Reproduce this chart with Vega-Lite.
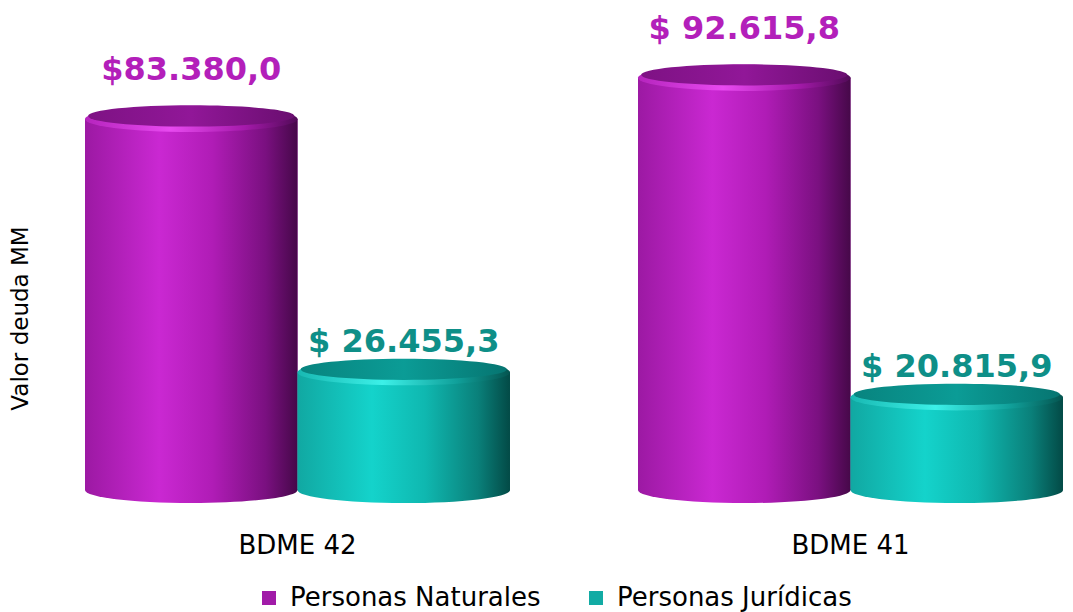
{
  "$schema": "https://vega.github.io/schema/vega-lite/v6.json",
  "width": 998,
  "height": 445,
  "autosize": {"type": "none"},
  "padding": {"left": 75, "top": 45, "right": 0, "bottom": 122},
  "background": "white",
  "config": {"view": {"stroke": null}, "font": "DejaVu Sans"},
  "data": {"values": [
    {"grupo": "BDME 42", "tipo": "Personas Naturales", "valor": 83380.0, "etiqueta": "$83.380,0"},
    {"grupo": "BDME 42", "tipo": "Personas Jurídicas", "valor": 26455.3, "etiqueta": "$ 26.455,3"},
    {"grupo": "BDME 41", "tipo": "Personas Naturales", "valor": 92615.8, "etiqueta": "$ 92.615,8"},
    {"grupo": "BDME 41", "tipo": "Personas Jurídicas", "valor": 20815.9, "etiqueta": "$ 20.815,9"}
  ]},
  "encoding": {
    "x": {"field": "grupo", "type": "nominal", "sort": ["BDME 42", "BDME 41"],
      "scale": {"paddingInner": 0.2315, "paddingOuter": 0.0181},
      "axis": {"title": null, "labelAngle": 0, "ticks": false, "domain": false, "labelFontSize": 26, "labelFont": "DejaVu Sans", "labelColor": "#000000", "labelPadding": 42, "labelBaseline": "top"}},
    "xOffset": {"field": "tipo", "type": "nominal", "sort": ["Personas Naturales", "Personas Jurídicas"], "scale": {"paddingInner": 0, "paddingOuter": 0}},
    "y": {"field": "valor", "type": "quantitative", "scale": {"domain": [0, 100000], "nice": false, "zero": true},
      "axis": {"title": "Valor deuda MM", "labels": false, "ticks": false, "domain": false, "grid": false, "titleFontSize": 23, "titleFont": "DejaVu Sans", "titleFontWeight": "normal", "titleColor": "#000000", "titleX": -55, "titleY": 273, "titleAngle": -90, "titleAlign": "center", "titleBaseline": "middle"}}
  },
  "layer": [
    {
      "mark": {"type": "bar"},
      "encoding": {
        "color": {"field": "tipo", "type": "nominal", "sort": ["Personas Naturales", "Personas Jurídicas"],
          "scale": {"domain": ["Personas Naturales", "Personas Jurídicas"], "range": ["#A11BA8", "#12ABA4"]},
          "legend": {"title": null, "orient": "none", "direction": "horizontal", "legendX": 181, "legendY": 540, "symbolType": "square", "symbolSize": 196, "symbolStrokeWidth": 0, "symbolOpacity": 1, "labelFontSize": 26, "labelFont": "DejaVu Sans", "labelColor": "#000000", "labelLimit": 400, "columnPadding": 42, "labelOffset": 8}}
      }
    },
    {
      "transform": [{"filter": "datum.tipo === 'Personas Naturales'"}],
      "mark": {"type": "bar", "color": {"gradient": "linear", "x1": 0, "x2": 1, "y1": 0, "y2": 0, "stops": [
        {"offset": 0, "color": "#9C19A3"}, {"offset": 0.35, "color": "#CA28D2"}, {"offset": 0.6, "color": "#B01CB6"}, {"offset": 0.85, "color": "#7A1080"}, {"offset": 1, "color": "#460849"}]}},
      "encoding": {}
    },
    {
      "transform": [{"filter": "datum.tipo === 'Personas Jurídicas'"}],
      "mark": {"type": "bar", "color": {"gradient": "linear", "x1": 0, "x2": 1, "y1": 0, "y2": 0, "stops": [
        {"offset": 0, "color": "#11A8A2"}, {"offset": 0.35, "color": "#14D3CB"}, {"offset": 0.6, "color": "#0FB8B0"}, {"offset": 0.85, "color": "#0A807A"}, {"offset": 1, "color": "#034A46"}]}},
      "encoding": {}
    },
    {
      "transform": [{"filter": "datum.tipo === 'Personas Naturales'"}],
      "mark": {"type": "point", "filled": true, "opacity": 1, "strokeWidth": 0, "size": 45200,
        "shape": "M-1,0C-1,-0.0679,-0.5523,-0.123,0,-0.123C0.5523,-0.123,1,-0.0679,1,0C1,0.0679,0.5523,0.123,0,0.123C-0.5523,0.123,-1,0.0679,-1,0Z",
        "fill": {"gradient": "linear", "x1": 0, "x2": 1, "y1": 0, "y2": 0, "stops": [
        {"offset": 0, "color": "#9C19A3"}, {"offset": 0.35, "color": "#CA28D2"}, {"offset": 0.6, "color": "#B01CB6"}, {"offset": 0.85, "color": "#7A1080"}, {"offset": 1, "color": "#460849"}]}},
      "encoding": {"y": {"datum": 0, "type": "quantitative"}}
    },
    {
      "transform": [{"filter": "datum.tipo === 'Personas Jurídicas'"}],
      "mark": {"type": "point", "filled": true, "opacity": 1, "strokeWidth": 0, "size": 45200,
        "shape": "M-1,0C-1,-0.0679,-0.5523,-0.123,0,-0.123C0.5523,-0.123,1,-0.0679,1,0C1,0.0679,0.5523,0.123,0,0.123C-0.5523,0.123,-1,0.0679,-1,0Z",
        "fill": {"gradient": "linear", "x1": 0, "x2": 1, "y1": 0, "y2": 0, "stops": [
        {"offset": 0, "color": "#11A8A2"}, {"offset": 0.35, "color": "#14D3CB"}, {"offset": 0.6, "color": "#0FB8B0"}, {"offset": 0.85, "color": "#0A807A"}, {"offset": 1, "color": "#034A46"}]}},
      "encoding": {"y": {"datum": 0, "type": "quantitative"}}
    },
    {
      "transform": [{"filter": "datum.tipo === 'Personas Naturales'"}],
      "mark": {"type": "point", "filled": true, "opacity": 1, "strokeWidth": 0, "size": 45200,
        "shape": "M-1,0C-1,-0.0679,-0.5523,-0.123,0,-0.123C0.5523,-0.123,1,-0.0679,1,0C1,0.0679,0.5523,0.123,0,0.123C-0.5523,0.123,-1,0.0679,-1,0Z",
        "fill": {"gradient": "linear", "x1": 0, "x2": 1, "y1": 0, "y2": 0, "stops": [
        {"offset": 0, "color": "#B524BD"}, {"offset": 0.4, "color": "#E84AF0"}, {"offset": 0.75, "color": "#A51AAB"}, {"offset": 1, "color": "#520A58"}]}},
      "encoding": {}
    },
    {
      "transform": [{"filter": "datum.tipo === 'Personas Jurídicas'"}],
      "mark": {"type": "point", "filled": true, "opacity": 1, "strokeWidth": 0, "size": 45200,
        "shape": "M-1,0C-1,-0.0679,-0.5523,-0.123,0,-0.123C0.5523,-0.123,1,-0.0679,1,0C1,0.0679,0.5523,0.123,0,0.123C-0.5523,0.123,-1,0.0679,-1,0Z",
        "fill": {"gradient": "linear", "x1": 0, "x2": 1, "y1": 0, "y2": 0, "stops": [
        {"offset": 0, "color": "#18B8B2"}, {"offset": 0.4, "color": "#3CF0E8"}, {"offset": 0.75, "color": "#10A09A"}, {"offset": 1, "color": "#045550"}]}},
      "encoding": {}
    },
    {
      "transform": [{"filter": "datum.tipo === 'Personas Naturales'"}],
      "mark": {"type": "point", "filled": true, "opacity": 1, "strokeWidth": 0, "size": 45200, "yOffset": -3,
        "shape": "M-0.97,0C-0.97,-0.0552,-0.5357,-0.1,0,-0.1C0.5357,-0.1,0.97,-0.0552,0.97,0C0.97,0.0552,0.5357,0.1,0,0.1C-0.5357,0.1,-0.97,0.0552,-0.97,0Z",
        "fill": {"gradient": "linear", "x1": 0, "x2": 1, "y1": 0, "y2": 0, "stops": [
        {"offset": 0, "color": "#7E1284"}, {"offset": 0.5, "color": "#911798"}, {"offset": 1, "color": "#6A0E70"}]}},
      "encoding": {}
    },
    {
      "transform": [{"filter": "datum.tipo === 'Personas Jurídicas'"}],
      "mark": {"type": "point", "filled": true, "opacity": 1, "strokeWidth": 0, "size": 45200, "yOffset": -3,
        "shape": "M-0.97,0C-0.97,-0.0552,-0.5357,-0.1,0,-0.1C0.5357,-0.1,0.97,-0.0552,0.97,0C0.97,0.0552,0.5357,0.1,0,0.1C-0.5357,0.1,-0.97,0.0552,-0.97,0Z",
        "fill": {"gradient": "linear", "x1": 0, "x2": 1, "y1": 0, "y2": 0, "stops": [
        {"offset": 0, "color": "#08847F"}, {"offset": 0.5, "color": "#0B9C96"}, {"offset": 1, "color": "#067571"}]}},
      "encoding": {}
    },
    {
      "transform": [{"filter": "datum.tipo === 'Personas Naturales'"}],
      "mark": {"type": "text", "font": "DejaVu Sans", "fontWeight": "bold", "fontSize": 32, "color": "#B31FBA", "baseline": "alphabetic", "dy": -39},
      "encoding": {"text": {"field": "etiqueta"}}
    },
    {
      "transform": [{"filter": "datum.tipo === 'Personas Jurídicas'"}],
      "mark": {"type": "text", "font": "DejaVu Sans", "fontWeight": "bold", "fontSize": 32, "color": "#0E8F88", "baseline": "alphabetic", "dy": -20},
      "encoding": {"text": {"field": "etiqueta"}}
    }
  ]
}
